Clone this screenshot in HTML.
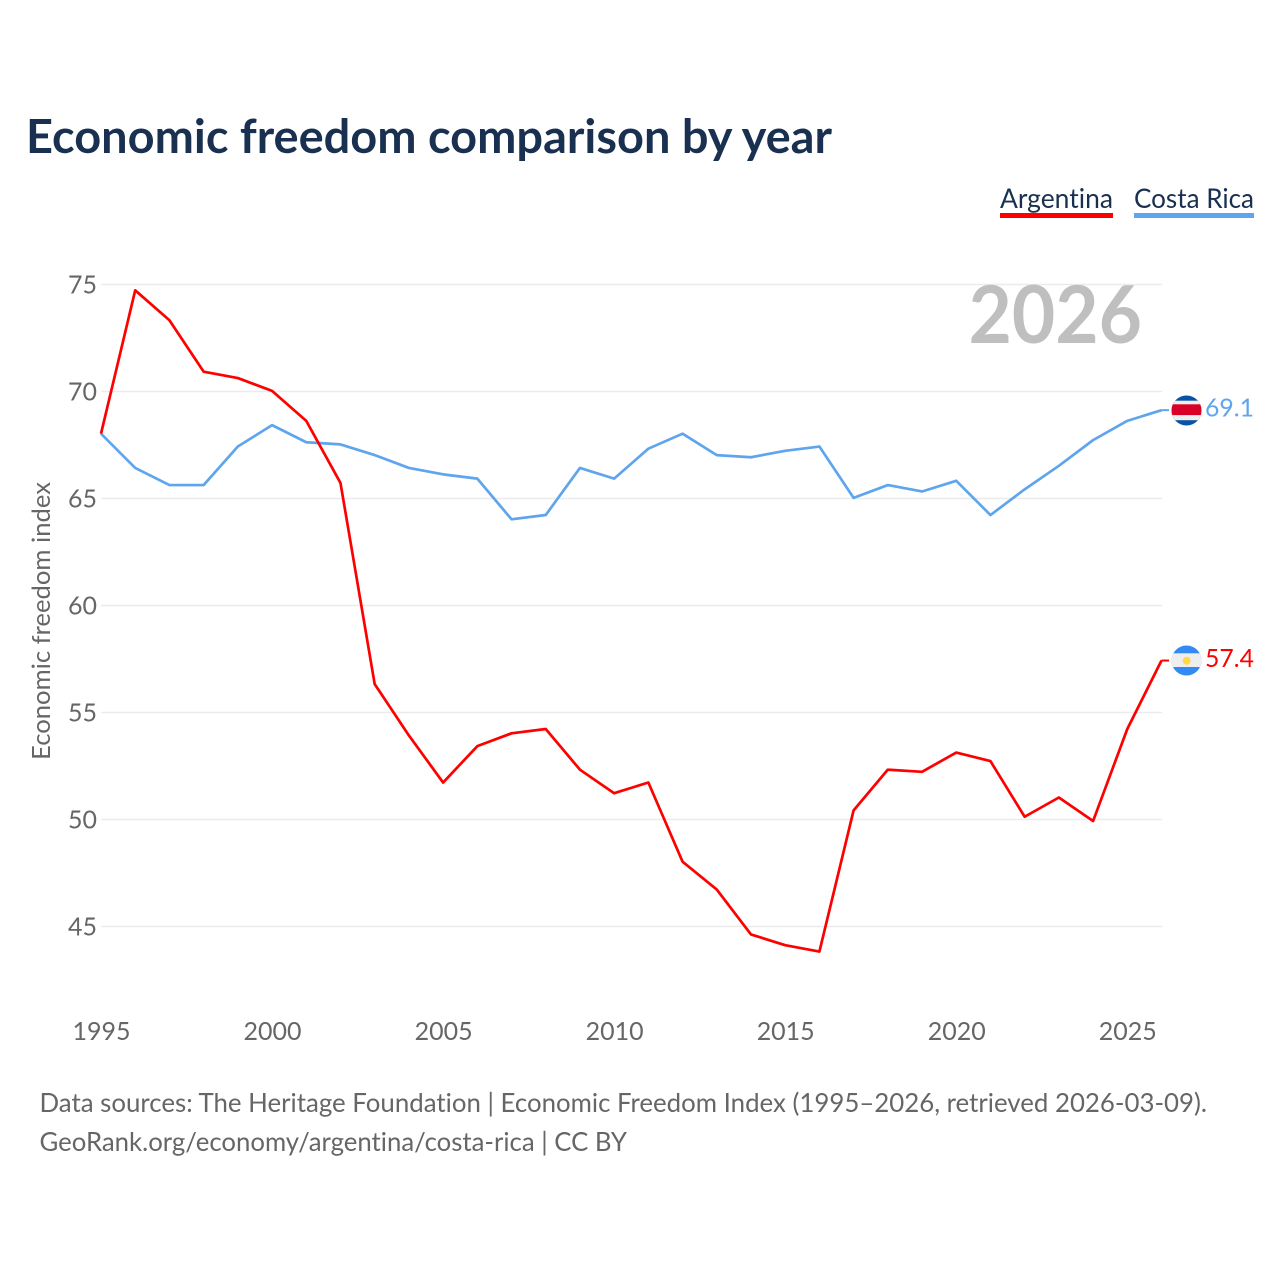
<!DOCTYPE html>
<html lang="en">
<head>
<meta charset="utf-8">
<title>Economic freedom comparison by year</title>
<style>
html,body{margin:0;padding:0;background:#fff;width:1280px;height:1280px;overflow:hidden}
svg{display:block}
text{font-family:"Lato","Carlito","Liberation Sans",sans-serif;font-variant-ligatures:none;font-feature-settings:"liga" 0,"clig" 0,"dlig" 0}
</style>
</head>
<body>
<svg id="chart" width="1280" height="1280" viewBox="0 0 1280 1280" xmlns="http://www.w3.org/2000/svg">
<defs>
<clipPath id="flag-clip-cr"><circle cx="1186.5" cy="410.5" r="15"/></clipPath>
<clipPath id="flag-clip-ar"><circle cx="1186.5" cy="660.5" r="15"/></clipPath>
</defs>
<rect width="1280" height="1280" fill="#fff"/>
<text x="26" y="153" font-size="47" font-weight="700" fill="#1a3050" textLength="806" lengthAdjust="spacingAndGlyphs">Economic freedom comparison by year</text>
<g>
<g>
<text x="1000" y="208" font-size="27" fill="#1a3050" textLength="113" lengthAdjust="spacingAndGlyphs">Argentina</text>
<rect x="1000" y="213" width="113" height="5" fill="#ff0000"/>
</g>
<g>
<text x="1134" y="208" font-size="27" fill="#1a3050" textLength="120" lengthAdjust="spacingAndGlyphs">Costa Rica</text>
<rect x="1134" y="213" width="120" height="5" fill="#5fa5ee"/>
</g>
</g>
<g id="grid"></g>
<g id="yticks"></g>
<g id="xticks"></g>
<text x="968.5" y="343" font-size="80" font-weight="700" fill="#bfbfbf" textLength="173.5" lengthAdjust="spacingAndGlyphs">2026</text>
<text transform="translate(50,760) rotate(-90)" x="0" y="0" font-size="25" fill="#666666" textLength="278" lengthAdjust="spacingAndGlyphs">Economic freedom index</text>
<g id="series"></g>
<g clip-path="url(#flag-clip-cr)">
<rect x="1171" y="395" width="31" height="31" fill="#0a51a8"/>
<rect x="1171" y="400.7" width="31" height="19.5" fill="#eeeeee"/>
<rect x="1171" y="404.3" width="31" height="10.8" fill="#d80027"/>
</g>
<g clip-path="url(#flag-clip-ar)">
<rect x="1171" y="645" width="31" height="31" fill="#338af3"/>
<rect x="1171" y="653.3" width="31" height="13.7" fill="#eeeeee"/>
<circle cx="1186.7" cy="660.7" r="4" fill="#ffda44"/>
</g>
<g>
<text x="39.5" y="1112" font-size="26" fill="#666666" textLength="1167.5" lengthAdjust="spacingAndGlyphs">Data sources: The Heritage Foundation | Economic Freedom Index (1995–2026, retrieved 2026-03-09).</text>
<text x="39.5" y="1151" font-size="26" fill="#666666" textLength="587.5" lengthAdjust="spacingAndGlyphs">GeoRank.org/economy/argentina/costa-rica | CC BY</text>
</g>
</svg>
<script>
const years = [1995,1996,1997,1998,1999,2000,2001,2002,2003,2004,2005,2006,2007,2008,2009,2010,2011,2012,2013,2014,2015,2016,2017,2018,2019,2020,2021,2022,2023,2024,2025,2026];
const argentina = [68.0,74.7,73.3,70.9,70.6,70.0,68.6,65.7,56.3,53.9,51.7,53.4,54.0,54.2,52.3,51.2,51.7,48.0,46.7,44.6,44.1,43.8,50.4,52.3,52.2,53.1,52.7,50.1,51.0,49.9,54.2,57.4];
const costaRica = [68.0,66.4,65.6,65.6,67.4,68.4,67.6,67.5,67.0,66.4,66.1,65.9,64.0,64.2,66.4,65.9,67.3,68.0,67.0,66.9,67.2,67.4,65.0,65.6,65.3,65.8,64.2,65.4,66.5,67.7,68.6,69.1];
const yTickValues = [45,50,55,60,65,70,75];
const xTickValues = [1995,2000,2005,2010,2015,2020,2025];

const NS = 'http://www.w3.org/2000/svg';
function xScale(year){ return 101.5 + (year - 1995) * (1162 - 101.5) / 31; }
function yScale(v){ return 926.5 - (v - 45) * (926.5 - 284.5) / 30; }
function make(tag, attrs, parent){
  const el = document.createElementNS(NS, tag);
  for (const k in attrs) el.setAttribute(k, attrs[k]);
  parent.appendChild(el);
  return el;
}
const grid = document.getElementById('grid');
const yticks = document.getElementById('yticks');
const xticks = document.getElementById('xticks');
const series = document.getElementById('series');

yTickValues.forEach(function(v){
  const line = make('line', {x1:101.5, x2:1162, y1:yScale(v), y2:yScale(v), stroke:'#ebebeb', 'stroke-width':1.5}, grid);
  
  
  const label = make('text', {x:97, y:yScale(v) + 9, 'text-anchor':'end', 'font-size':25, fill:'#666666', textLength:29, lengthAdjust:'spacingAndGlyphs'}, yticks);
  
  
  label.textContent = String(v);
});
xTickValues.forEach(function(y){
  const label = make('text', {x:xScale(y), y:1040, 'text-anchor':'middle', 'font-size':25, fill:'#666666', textLength:58, lengthAdjust:'spacingAndGlyphs'}, xticks);
  
  
  label.textContent = String(y);
});
function drawSeries(values, color, key){
  const pts = values.map(function(v, i){ return (xScale(years[i]) - 0.5).toFixed(2) + ',' + (yScale(v) - 0.6).toFixed(2); });
  const line = make('polyline', {points:pts.join(' '), fill:'none', stroke:color, 'stroke-width':2.7, 'stroke-linejoin':'round'}, series);
  
  
  const last = values[values.length - 1];
  const lastX = xScale(years[years.length - 1]) - 0.5;
  const lastY = yScale(last) - 0.6;
  const conn = make('line', {x1:lastX, x2:1169, y1:lastY, y2:lastY, stroke:color, 'stroke-width':2}, series);
  
  
  const label = make('text', {x:1254, y:lastY + 6.5, 'text-anchor':'end', 'font-size':25.5, fill:color, textLength:49, lengthAdjust:'spacingAndGlyphs'}, series);
  
  
  label.textContent = last.toFixed(1);
}
drawSeries(costaRica, '#5fa5ee', 'costa-rica');
drawSeries(argentina, '#ff0000', 'argentina');
</script>
</body>
</html>
